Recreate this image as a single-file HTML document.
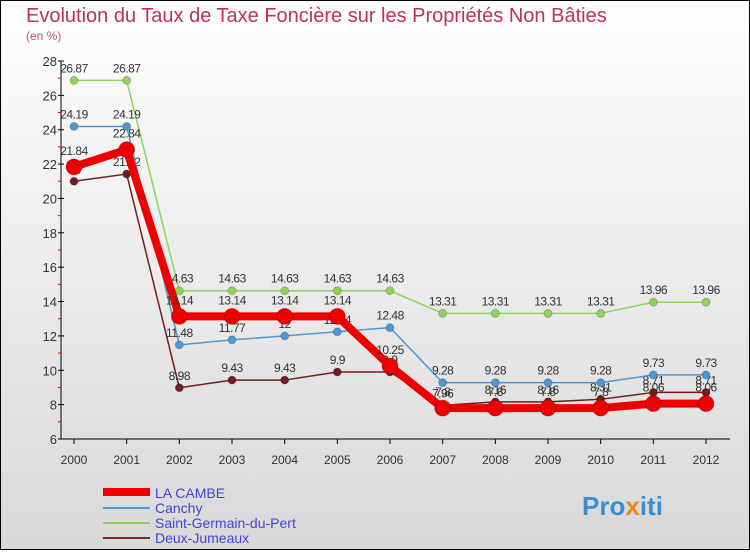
<!DOCTYPE html>
<html><head><meta charset="utf-8"><style>
body{margin:0;width:750px;height:550px;overflow:hidden;font-family:"Liberation Sans",sans-serif}
</style></head><body>
<svg width="750" height="550" xmlns="http://www.w3.org/2000/svg">
<defs><linearGradient id="bg" x1="0" y1="0" x2="0" y2="1"><stop offset="0" stop-color="#ffffff"/><stop offset="1" stop-color="#d8d8d8"/></linearGradient></defs>
<rect x="0.5" y="0.5" width="749" height="549" fill="url(#bg)" stroke="#000"/>
<text x="26" y="22" font-size="20" fill="#c0305a">Evolution du Taux de Taxe Foncière sur les Propriétés Non Bâties</text>
<text x="26" y="40" font-size="12" fill="#c0507a">(en %)</text>
<g id="axes"></g><g id="series"></g>
<g font-size="14" fill="#4444dd">
<line x1="103" y1="492" x2="150" y2="492" stroke="#ee0000" stroke-width="8"/><text x="155" y="498">LA CAMBE</text>
<line x1="103" y1="508" x2="150" y2="508" stroke="#4f97d4" stroke-width="2"/><text x="155" y="513">Canchy</text>
<line x1="103" y1="523" x2="150" y2="523" stroke="#8fd45a" stroke-width="2"/><text x="155" y="528">Saint-Germain-du-Pert</text>
<line x1="103" y1="538" x2="150" y2="538" stroke="#7a2a2a" stroke-width="2"/><text x="155" y="543">Deux-Jumeaux</text>
</g>
<text x="582" y="515" font-size="26" font-weight="bold" fill="#3a8fd0">Pro<tspan fill="#f08a1c">x</tspan>iti</text>
</svg>
<script>
const years=[2000,2001,2002,2003,2004,2005,2006,2007,2008,2009,2010,2011,2012];
const yTicks=[6,8,10,12,14,16,18,20,22,24,26,28];
const laCambe=[21.84,22.84,13.14,13.14,13.14,13.14,10.25,7.8,7.8,7.8,7.8,8.06,8.06];
const canchy=[24.19,24.19,11.48,11.77,12,12.24,12.48,9.28,9.28,9.28,9.28,9.73,9.73];
const sgp=[26.87,26.87,14.63,14.63,14.63,14.63,14.63,13.31,13.31,13.31,13.31,13.96,13.96];
const deux=[21,21.42,8.98,9.43,9.43,9.9,9.9,7.96,8.16,8.16,8.31,8.71,8.71];
const NS='http://www.w3.org/2000/svg';
const X=i=>74+i*(706-74)/12;
const Y=v=>439-(v-6)*(378/22);
function mk(t,a,p){const e=document.createElementNS(NS,t);for(const k in a)e.setAttribute(k,a[k]);p.appendChild(e);return e;}
const ax=document.getElementById('axes');
const yl=mk('line',{x1:61,y1:61,x2:61,y2:439,stroke:'#000'},ax);


const xl=mk('line',{x1:61,y1:439,x2:730,y2:439,stroke:'#000'},ax);


yTicks.forEach(v=>{
 mk('line',{x1:58,y1:Y(v),x2:64,y2:Y(v),stroke:'#000'},ax);
 if(v<28)mk('line',{x1:58,y1:Y(v+1),x2:61,y2:Y(v+1),stroke:'#e00'},ax);
 const t=mk('text',{x:57,y:Y(v)+5,'font-size':13,'text-anchor':'end',fill:'#333'},ax);t.textContent=v;
 
 
});
years.forEach((y,i)=>{
 mk('line',{x1:X(i),y1:439,x2:X(i),y2:444,stroke:'#000'},ax);
 const t=mk('text',{x:X(i),y:464,'font-size':12,'text-anchor':'middle',fill:'#333'},ax);t.textContent=y;
 
 
});
const sg=document.getElementById('series');
function series(d,color,w,r,name,dy){
 const g=mk('g',{},sg);
 
 
 mk('polyline',{points:d.map((v,i)=>X(i)+','+Y(v)).join(' '),fill:'none',stroke:color,'stroke-width':w,'stroke-linejoin':'round'},g);
 d.forEach((v,i)=>{
  const c=mk('circle',{cx:X(i),cy:Y(v),r:r,fill:color,stroke:'rgba(0,0,0,0.2)'},g);
  
  
  const t=mk('text',{x:X(i),y:Y(v)+dy,'font-size':12,'text-anchor':'middle',fill:'#333','letter-spacing':'-0.5'},g);t.textContent=v;
  
  
 });
}
series(deux,'#6e1e1e',1.5,4,'deux-jumeaux',-8);
series(sgp,'#8fd45a',1.5,4,'saint-germain-du-pert',-8);
series(canchy,'#4f97d4',1.5,4,'canchy',-8);
series(laCambe,'#ee0000',8,8,'la-cambe',-12);
</script>
</body></html>
